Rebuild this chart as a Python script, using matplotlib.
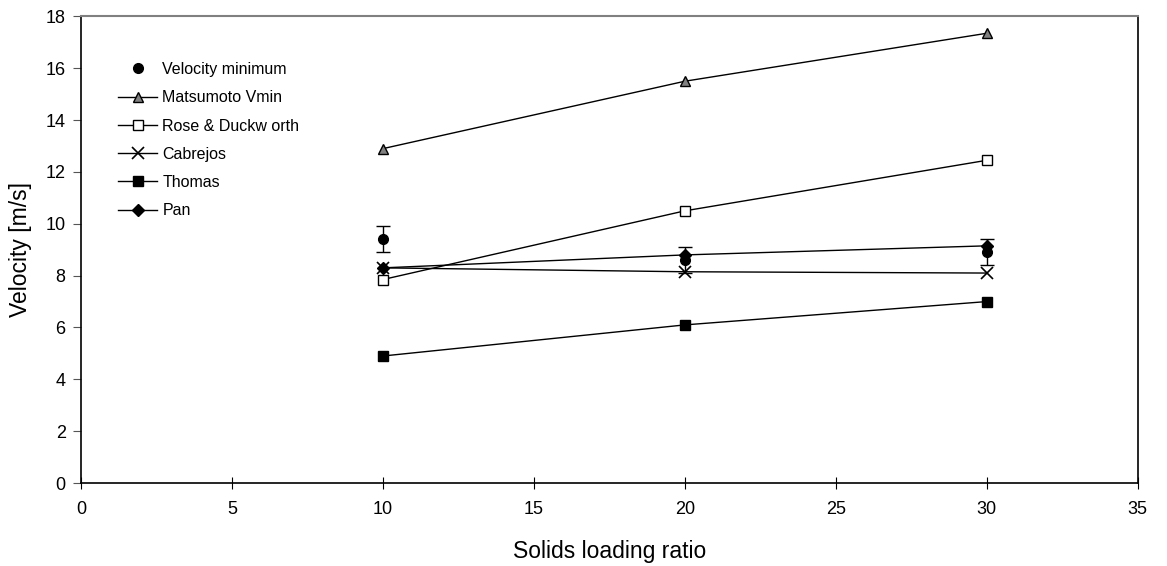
import matplotlib.pyplot as plt
from matplotlib.lines import Line2D

plt.rcParams['font.family'] = ['Liberation Sans', 'DejaVu Sans']

loading = [10, 20, 30]
vel_min = [9.4, 8.6, 8.9]
vel_min_err = [0.5, 0.5, 0.5]
matsumoto = [12.9, 15.5, 17.35]
rose_duckworth = [7.85, 10.5, 12.45]
cabrejos = [8.3, 8.15, 8.1]
thomas = [4.9, 6.1, 7.0]
pan = [8.3, 8.8, 9.15]

fig = plt.figure(figsize=(11.67, 5.66), dpi=100)
ax = fig.add_axes([0.0694, 0.1466, 0.9056, 0.8244])

ax.plot(loading, matsumoto, color='black', lw=1, marker='^', ms=7,
        mfc='#808080', mec='black', label='Matsumoto Vmin')
ax.plot(loading, rose_duckworth, color='black', lw=1, marker='s', ms=7,
        mfc='white', mec='black', label='Rose & Duckw orth')
ax.plot(loading, cabrejos, color='black', lw=1, marker='x', ms=8,
        mew=1.2, label='Cabrejos')
ax.plot(loading, thomas, color='black', lw=1, marker='s', ms=7,
        label='Thomas')
ax.plot(loading, pan, color='black', lw=1, marker='D', ms=6,
        label='Pan')
ax.errorbar(loading, vel_min, yerr=vel_min_err, fmt='o', color='black',
            ms=7, capsize=5, elinewidth=1, capthick=1)

# legend entry for the measured points: marker only, no error bar
vmin_handle = Line2D([], [], ls='none', marker='o', ms=7, color='black')
handles, labels = ax.get_legend_handles_labels()
ax.legend([vmin_handle] + handles, ['Velocity minimum'] + labels,
          loc='upper left', bbox_to_anchor=(0.021, 0.933), frameon=False,
          fontsize=11.5, handlelength=2.5, labelspacing=0.83,
          handletextpad=0.3)

ax.set_xlim(0, 35)
ax.set_ylim(0, 18)
ax.set_xticks(range(0, 36, 5))
ax.set_yticks(range(0, 19, 2))
ax.tick_params(axis='x', direction='inout', length=8, labelsize=13, pad=9)
ax.tick_params(axis='y', direction='out', length=6, labelsize=13,
               color='#555555', pad=5)
ax.spines['top'].set_color('#808080')
ax.spines['top'].set_linewidth(1.5)
for s in ['left', 'bottom', 'right']:
    ax.spines[s].set_linewidth(1.2)

ax.set_xlabel('Solids loading ratio', fontsize=16.5, labelpad=16)
ax.set_ylabel('Velocity [m/s]', fontsize=16.5, labelpad=10)

fig.savefig('out.png', dpi=100)
